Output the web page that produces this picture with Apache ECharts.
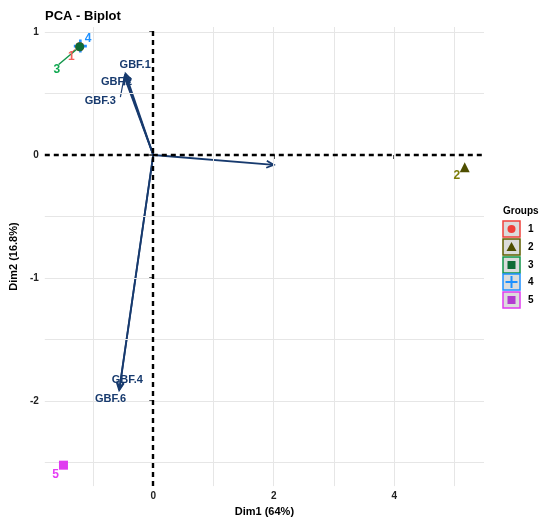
<!DOCTYPE html>
<html><head><meta charset="utf-8">
<script src="https://cdn.jsdelivr.net/npm/echarts@6/dist/echarts.min.js"></script>
<style>html,body{margin:0;padding:0;background:#fff}#c{width:545px;height:522px}</style>
</head><body><div id="c"></div>
<script>
// ---- data ----
var groups = ['1','2','3','4','5'];
var groupPoints = [[-1.22,0.88],[5.17,-0.10],[-1.22,0.88],[-1.21,0.885],[-1.49,-2.52]];
var groupLabelPos = [[-1.36,0.80],[5.04,-0.17],[-1.60,0.69],[-1.08,0.945],[-1.62,-2.60]];
var groupSegments = [[-1.35,0.83,-1.30,0.855,0],[-1.57,0.735,-1.22,0.88,2]];
var varNames = ['GBF.1','GBF.2','GBF.3','GBF.4','GBF.5','GBF.6'];
var varTips = [[-0.46,0.66],[-0.47,0.645],[-0.475,0.63],[-0.56,-1.90],[2.0,-0.08],[-0.565,-1.91]];
var varLabelPos = [[-0.30,0.73],[-0.61,0.59],[-0.88,0.44],[-0.43,-1.83],null,[-0.71,-1.98]];
var varSegments = [[-0.545,0.47,-0.48,0.64]];
var xTicks = [0,2,4];
var yTicks = [-2,-1,0,1];
var xGrid = [-1,1,2,3,4,5];
var yGrid = [-2.5,-2,-1.5,-1,-0.5,0.5,1];

// ---- styles ----
var gColors = ['#F0403A','#5F5F00','#12954A','#1E90FF','#E03BF0'];
var gPointColors = ['#F0403A','#4E4E00','#0E6B35','#1E90FF','#E03BF0'];
var gLabelColors = ['#F2605A','#7C7C08','#10A850','#1E90FF','#E63DF5'];
var gSymbols = ['circle','triangle','circle','path://M4,0h2v4h4v2h-4v4h-2v-4h-4v-2h4z','rect'];
var gSizes = [9,10,9,13,9];
var gZ = [6,6,8,5,6];
var arrowColor = '#173A6E';
var font = 'Liberation Sans, Arial, sans-serif';

var chart = echarts.init(document.getElementById('c'));

var series = [];
series.push({
  type:'scatter', data:[], silent:true,
  markLine:{silent:true, symbol:['none','none'], label:{show:false}, animation:false,
    lineStyle:{color:'#e6e6e6', width:1, type:'solid'},
    data: xGrid.map(function(v){return {xAxis:v};}).concat(yGrid.map(function(v){return {yAxis:v};}))
  }
});
series.push({
  type:'scatter', data:[], silent:true, z:3,
  markLine:{silent:true, symbol:['none','none'], label:{show:false}, animation:false,
    lineStyle:{color:'#000', width:2.4, type:[5,4]},
    data:[{xAxis:0},{yAxis:0}]
  }
});
series.push({
  type:'custom', z:4, silent:true,
  data: varTips.map(function(t){return [0,0,t[0],t[1]];}),
  renderItem:function(params, api){
    var s = api.coord([api.value(0), api.value(1)]);
    var e = api.coord([api.value(2), api.value(3)]);
    var ang = Math.atan2(e[1]-s[1], e[0]-s[0]);
    var L = 8, a = Math.PI/7;
    var p1 = [e[0]-L*Math.cos(ang-a), e[1]-L*Math.sin(ang-a)];
    var p2 = [e[0]-L*Math.cos(ang+a), e[1]-L*Math.sin(ang+a)];
    return {type:'group', children:[
      {type:'line', shape:{x1:s[0],y1:s[1],x2:e[0],y2:e[1]}, style:{stroke:arrowColor, lineWidth:1.8}},
      {type:'polyline', shape:{points:[p1,e,p2]}, style:{stroke:arrowColor, lineWidth:1.8, fill:null}}
    ]};
  }
});
series.push({
  type:'custom', z:4, silent:true,
  data: varSegments.map(function(s){return [s[0],s[1],s[2],s[3],-1];}).concat(groupSegments),
  renderItem:function(params, api){
    var s = api.coord([api.value(0), api.value(1)]);
    var e = api.coord([api.value(2), api.value(3)]);
    var ci = api.value(4);
    return {type:'line', shape:{x1:s[0],y1:s[1],x2:e[0],y2:e[1]},
      style:{stroke: ci<0 ? arrowColor : gColors[ci], lineWidth: ci<0?1.2:1.4}};
  }
});
series.push({
  type:'scatter', symbolSize:0, z:5, silent:true, itemStyle:{opacity:1},
  data: varNames.map(function(n,i){return varLabelPos[i] ? {value:varLabelPos[i], name:n} : null;}).filter(function(d){return d;}),
  label:{show:true, position:'inside', formatter:'{b}', color:arrowColor, fontSize:11, fontWeight:'bold', fontFamily:font, opacity:1}
});
groups.forEach(function(g,i){
  series.push({
    type:'scatter', name:g, z:gZ[i], silent:true,
    symbol:gSymbols[i], symbolSize:gSizes[i],
    data:[groupPoints[i]],
    itemStyle:{color:gPointColors[i], opacity:1}
  });
});
series.push({
  type:'scatter', symbolSize:0, z:9, silent:true, itemStyle:{opacity:1},
  data: groups.map(function(g,i){return {value:groupLabelPos[i], name:g, label:{color:gLabelColors[i]}};}),
  label:{show:true, position:'inside', formatter:'{b}', fontSize:12, fontWeight:'bold', fontFamily:font, opacity:1}
});

// legend via graphic
var legendGraphic = [{type:'text', left:503, top:206, style:{text:'Groups', font:'bold 10px '+font, fill:'#000'}}];
var keyTops = [221,239,257,274,292];
groups.forEach(function(g,i){
  var t = keyTops[i], cx = 511.5, cy = t + 8, c = gColors[i];
  legendGraphic.push({type:'rect', shape:{x:503, y:t, width:17, height:16}, style:{fill:'#dcdcdc', stroke:c, lineWidth:1.5}, z:10});
  var s;
  if (i === 0) s = {type:'circle', shape:{cx:cx, cy:cy, r:4}, style:{fill:c}};
  else if (i === 1) s = {type:'polygon', shape:{points:[[cx,cy-5],[cx+5,cy+4],[cx-5,cy+4]]}, style:{fill:gPointColors[1]}};
  else if (i === 2) s = {type:'rect', shape:{x:cx-4, y:cy-4, width:8, height:8}, style:{fill:gPointColors[2]}};
  else if (i === 3) s = {type:'polygon', shape:{points:[[cx-1,cy-6],[cx+1,cy-6],[cx+1,cy-1],[cx+6,cy-1],[cx+6,cy+1],[cx+1,cy+1],[cx+1,cy+6],[cx-1,cy+6],[cx-1,cy+1],[cx-6,cy+1],[cx-6,cy-1],[cx-1,cy-1]]}, style:{fill:c}};
  else s = {type:'rect', shape:{x:cx-4, y:cy-4, width:8, height:8}, style:{fill:'#B23BD0'}};
  s.z = 11;
  legendGraphic.push(s);
  legendGraphic.push({type:'text', left:528, top:t+3, style:{text:g, font:'bold 10px '+font, fill:'#000'}, z:11});
});

chart.setOption({
  animation:false,
  backgroundColor:'#fff',
  title:{text:'PCA - Biplot', left:40, top:5, textStyle:{fontSize:13, fontWeight:'bold', color:'#000', fontFamily:font}},
  grid:{left:43, right:61, top:27, bottom:32, containLabel:false},
  xAxis:{type:'value', min:-1.8, max:5.49,
    axisLine:{show:false}, splitLine:{show:false},
    axisTick:{show:true, customValues:xTicks, length:4, lineStyle:{color:'#222', width:1.5}},
    axisLabel:{customValues:xTicks, color:'#222', fontSize:10, fontWeight:'bold', fontFamily:font, margin:5},
    name:'Dim1 (64%)', nameLocation:'middle', nameGap:19,
    nameTextStyle:{fontSize:11, fontWeight:'bold', color:'#000', fontFamily:font}
  },
  yAxis:{type:'value', min:-2.69, max:1.04,
    axisLine:{show:false}, splitLine:{show:false},
    axisTick:{show:true, customValues:yTicks, length:4, lineStyle:{color:'#222', width:1.5}},
    axisLabel:{customValues:yTicks, color:'#222', fontSize:10, fontWeight:'bold', fontFamily:font, margin:6},
    name:'Dim2 (16.8%)', nameLocation:'middle', nameGap:22, nameRotate:90,
    nameTextStyle:{fontSize:11, fontWeight:'bold', color:'#000', fontFamily:font}
  },
  series:series,
  graphic:legendGraphic
});
</script></body></html>
